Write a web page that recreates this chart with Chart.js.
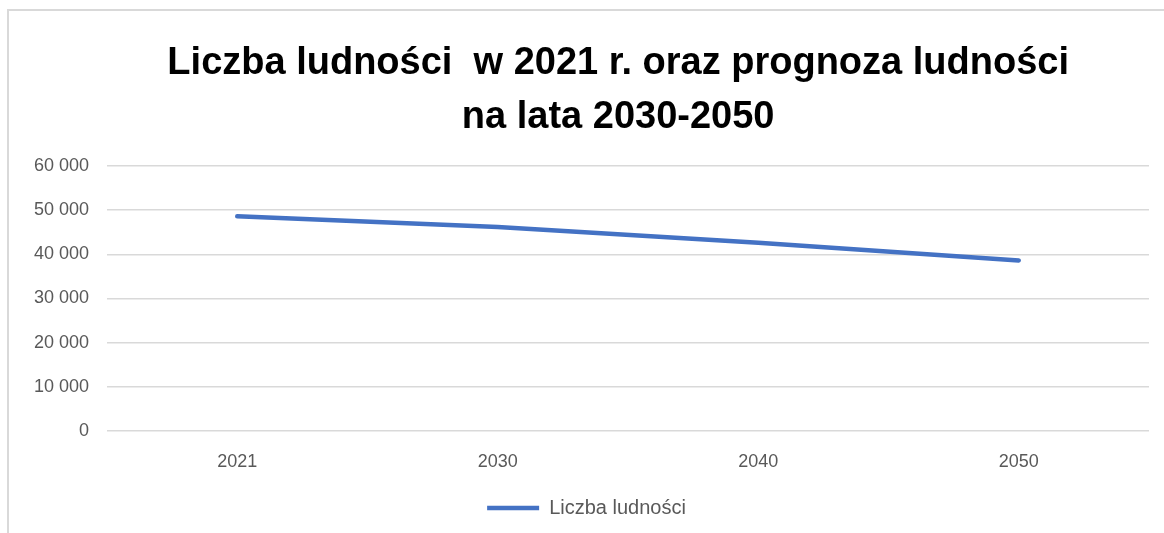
<!DOCTYPE html>
<html>
<head>
<meta charset="utf-8">
<script src="https://cdn.jsdelivr.net/npm/chart.js@4"></script>
<style>
  html, body { margin: 0; padding: 0; background: #fff; }
  #wrap { position: relative; width: 1164px; height: 533px; }
</style>
</head>
<body>
<div id="wrap"><canvas id="c" width="1164" height="533"></canvas></div>
<script>
const years = ['2021', '2030', '2040', '2050'];
const population = [48600, 46200, 42600, 38600];
const titleLines = ['Liczba ludności  w 2021 r. oraz prognoza ludności', 'na lata 2030-2050'];
const seriesName = 'Liczba ludności';
const yTicksMax = 60000;
const yTickStep = 10000;

function fmt(v) { return String(v).replace(/\B(?=(\d{3})+(?!\d))/g, ' '); }

const borderPlugin = {
  id: 'frame',
  beforeDraw(chart) {
    const ctx = chart.ctx;
    ctx.save();
    ctx.fillStyle = '#ffffff';
    ctx.fillRect(0, 0, chart.width, chart.height);
    ctx.strokeStyle = '#d9d9d9';
    ctx.lineWidth = 2;
    ctx.beginPath();
    ctx.moveTo(8, chart.height);
    ctx.lineTo(8, 10);
    ctx.lineTo(chart.width, 10);
    ctx.stroke();
    ctx.restore();
  }
};

new Chart(document.getElementById('c'), {
  type: 'line',
  data: {
    labels: years,
    datasets: [{
      label: seriesName,
      data: population,
      borderColor: '#4472C4',
      backgroundColor: '#4472C4',
      borderWidth: 4.5,
      borderCapStyle: 'round',
      borderJoinStyle: 'round',
      pointRadius: 0,
      pointHoverRadius: 0,
      pointStyle: 'line',
      tension: 0,
      fill: false
    }]
  },
  options: {
    responsive: false,
    animation: false,
    devicePixelRatio: 1,
    layout: { padding: { left: 24, right: 15, top: 0, bottom: 5 } },
    plugins: {
      title: {
        display: true,
        text: titleLines.map(t => '      ' + t),
        color: '#000000',
        font: { family: 'Liberation Sans', size: 38, weight: 'bold', lineHeight: 1.42 },
        padding: { top: 37, bottom: 21 }
      },
      legend: {
        display: true,
        position: 'bottom',
        labels: {
          usePointStyle: true,
          pointStyleWidth: 52,
          boxHeight: 4,
          color: '#595959',
          font: { family: 'Liberation Sans', size: 20 },
          padding: 10
        }
      },
      tooltip: { enabled: false }
    },
    scales: {
      x: {
        offset: true,
        grid: { display: false },
        border: { display: false },
        ticks: {
          color: '#595959',
          font: { family: 'Liberation Sans', size: 18 },
          padding: 12
        },
        afterFit(scale) { scale.height = 57; }
      },
      y: {
        min: 0,
        max: yTicksMax,
        grid: { color: '#d9d9d9', lineWidth: 1.5, drawTicks: false },
        border: { display: false },
        ticks: {
          stepSize: yTickStep,
          color: '#595959',
          font: { family: 'Liberation Sans', size: 18 },
          padding: 18,
          callback: (v) => fmt(v)
        },
        afterFit(scale) { scale.width = 83; }
      }
    }
  },
  plugins: [borderPlugin]
});
</script>
</body>
</html>
